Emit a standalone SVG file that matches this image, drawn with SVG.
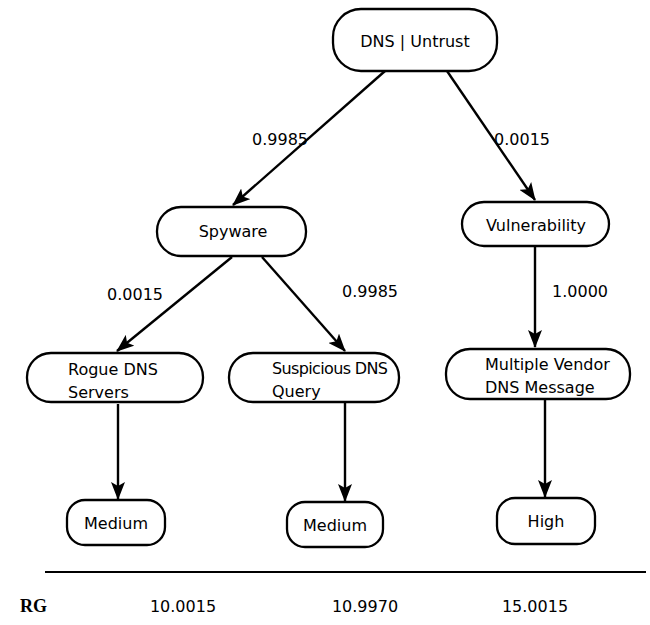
<svg xmlns="http://www.w3.org/2000/svg" width="650" height="625" viewBox="0 0 650 625">
<style>
.n{fill:#fff;stroke:#000;stroke-width:2.3}
.t{font-family:"DejaVu Sans",Verdana,sans-serif;font-size:16px;fill:#000}
.c{text-anchor:middle}
.e{stroke:#000;stroke-width:2.4;fill:none;marker-end:url(#ah)}
</style>
<defs>
<marker id="ah" viewBox="0 0 18 14" refX="17" refY="7" markerWidth="18" markerHeight="14" markerUnits="userSpaceOnUse" orient="auto">
<path d="M0,0 L18,7 L0,14 L4,7 Z" fill="#000"/>
</marker>
</defs>
<rect width="650" height="625" fill="#fff"/>
<g id="connectors">
<line class="e" x1="385" y1="71" x2="233" y2="205"/>
<line class="e" x1="447" y1="71" x2="535" y2="200"/>
<line class="e" x1="232" y1="257" x2="117" y2="351"/>
<line class="e" x1="262" y1="257" x2="345" y2="351"/>
<line class="e" x1="535" y1="246" x2="535" y2="347"/>
<line class="e" x1="118" y1="404" x2="118" y2="499"/>
<line class="e" x1="345" y1="403" x2="345" y2="501"/>
<line class="e" x1="545" y1="400" x2="545" y2="497"/>
<text class="t c" x="280" y="145">0.9985</text>
<text class="t c" x="522" y="145">0.0015</text>
<text class="t c" x="135" y="300">0.0015</text>
<text class="t c" x="370" y="297">0.9985</text>
<text class="t c" x="580" y="297">1.0000</text>
</g>
<g id="root"><rect class="n" x="333" y="9" width="164" height="62" rx="28"/><text class="t c" x="415" y="47">DNS | Untrust</text></g>
<g id="spyware"><rect class="n" x="157" y="207" width="149" height="49" rx="24"/><text class="t c" x="233" y="237">Spyware</text></g>
<g id="vulnerability"><rect class="n" x="462" y="202" width="147" height="44" rx="22"/><text class="t c" x="536" y="231">Vulnerability</text></g>
<g id="rogue"><rect class="n" x="27" y="353" width="176" height="49" rx="24"/><text class="t" x="68" y="375">Rogue DNS</text><text class="t" x="68" y="398">Servers</text></g>
<g id="suspicious"><rect class="n" x="229" y="353" width="170" height="49" rx="24"/><text class="t" x="272" y="374" textLength="116" lengthAdjust="spacing">Suspicious DNS</text><text class="t" x="272" y="397">Query</text></g>
<g id="multiple"><rect class="n" x="446" y="349" width="184" height="50" rx="24"/><text class="t" x="485" y="370">Multiple Vendor</text><text class="t" x="485" y="393">DNS Message</text></g>
<g id="medium1"><rect class="n" x="67" y="500" width="98" height="45" rx="18"/><text class="t c" x="116" y="529">Medium</text></g>
<g id="medium2"><rect class="n" x="287" y="502" width="96" height="45" rx="18"/><text class="t c" x="335" y="531">Medium</text></g>
<g id="high"><rect class="n" x="497" y="498" width="98" height="46" rx="18"/><text class="t c" x="546" y="527">High</text></g>
<line x1="45" y1="572" x2="646" y2="572" stroke="#000" stroke-width="2"/>
<text x="20" y="612" style="font-family:'Liberation Serif',serif;font-size:18px;font-weight:bold">RG</text>
<text class="t c" x="183" y="612">10.0015</text>
<text class="t c" x="365" y="612">10.9970</text>
<text class="t c" x="535" y="612">15.0015</text>
</svg>
